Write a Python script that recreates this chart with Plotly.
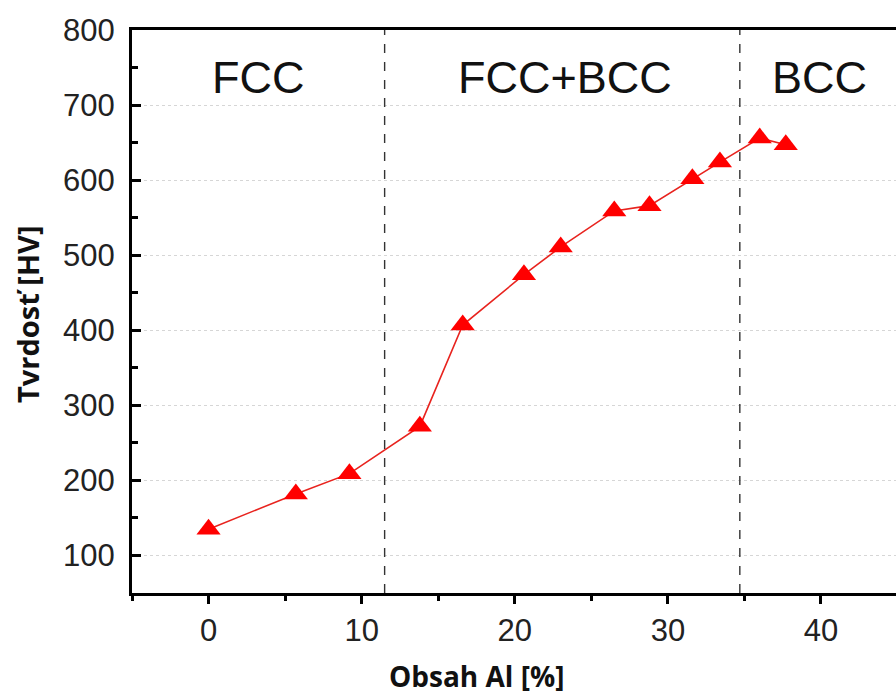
import plotly.graph_objects as go

al_content = [0, 5.7, 9.2, 13.8, 16.6, 20.6, 23.0, 26.5, 28.8, 31.6, 33.4, 36.0, 37.7]
hardness = [135, 182, 209, 272, 407, 474, 511, 559, 566, 602, 624, 656, 647]

phase_bounds = [11.5, 34.7]
phase_labels = ["FCC", "FCC+BCC", "BCC"]
phase_label_x = [3.2, 23.3, 39.9]

x_ticks = [0, 10, 20, 30, 40]
y_ticks = [100, 200, 300, 400, 500, 600, 700, 800]

W, H = 896, 697
L, R, T, B = 132, 0, 30, 104
pw, ph = W - L - R, H - T - B

fig = go.Figure()
fig.add_trace(go.Scatter(
    x=al_content, y=hardness, mode="lines+markers",
    line=dict(color="#e8231e", width=1.6),
    marker=dict(symbol="triangle-up", size=21, color="#ff0000"),
    showlegend=False, cliponaxis=False,
))

shapes = []
for b in phase_bounds:
    shapes.append(dict(type="line", xref="x", yref="paper", x0=b, x1=b, y0=0, y1=1,
                       line=dict(color="#333333", width=1.4, dash="dash"), layer="above"))

annotations = []
for lbl, xv in zip(phase_labels, phase_label_x):
    annotations.append(dict(x=xv, y=737, xref="x", yref="y", text=lbl, showarrow=False,
                            font=dict(family="Liberation Sans, Arial", size=45, color="#111111"),
                            xanchor="center", yanchor="middle"))
annotations.append(dict(x=(476 - L) / pw, y=(H - 676 - B) / ph, xref="paper", yref="paper",
                        xanchor="center", yanchor="middle",
                        text="<b>Obsah Al [%]</b>", showarrow=False,
                        font=dict(family="Open Sans", size=28, color="#111111")))
annotations.append(dict(x=(27 - L) / pw, y=(H - 314 - B) / ph, xref="paper", yref="paper",
                        xanchor="center", yanchor="middle",
                        text="<b>Tvrdosť [HV]</b>", showarrow=False, textangle=-90,
                        font=dict(family="Open Sans", size=29, color="#111111")))

fig.update_layout(
    width=W, height=H,
    margin=dict(l=L, r=R, t=T, b=B),
    paper_bgcolor="white", plot_bgcolor="white",
    shapes=shapes, annotations=annotations,
    xaxis=dict(range=[-5, 44.9], tickvals=x_ticks, ticks="outside", ticklen=8, tickwidth=3,
               tickcolor="black", showline=True, linecolor="black", linewidth=3, mirror=True,
               showgrid=False, zeroline=False,
               minor=dict(tickvals=[-5, 5, 15, 25, 35], ticks="outside", ticklen=5, tickwidth=3,
                          tickcolor="black", showgrid=False),
               tickfont=dict(family="Liberation Sans, Arial", size=31, color="#222222")),
    yaxis=dict(range=[50, 800], tickvals=y_ticks, ticks="inside", ticklen=9, tickwidth=3,
               tickcolor="black", showline=True, linecolor="black", linewidth=3, mirror=False,
               showgrid=True, gridcolor="#d6d6d6", griddash="dot", gridwidth=1,
               zeroline=False, ticklabelstandoff=8,
               minor=dict(tickvals=[150, 250, 350, 450, 550, 650, 750], ticks="inside", ticklen=6,
                          tickwidth=3, tickcolor="black", showgrid=False),
               tickfont=dict(family="Liberation Sans, Arial", size=31, color="#222222")),
)

fig.write_html("out.html")
